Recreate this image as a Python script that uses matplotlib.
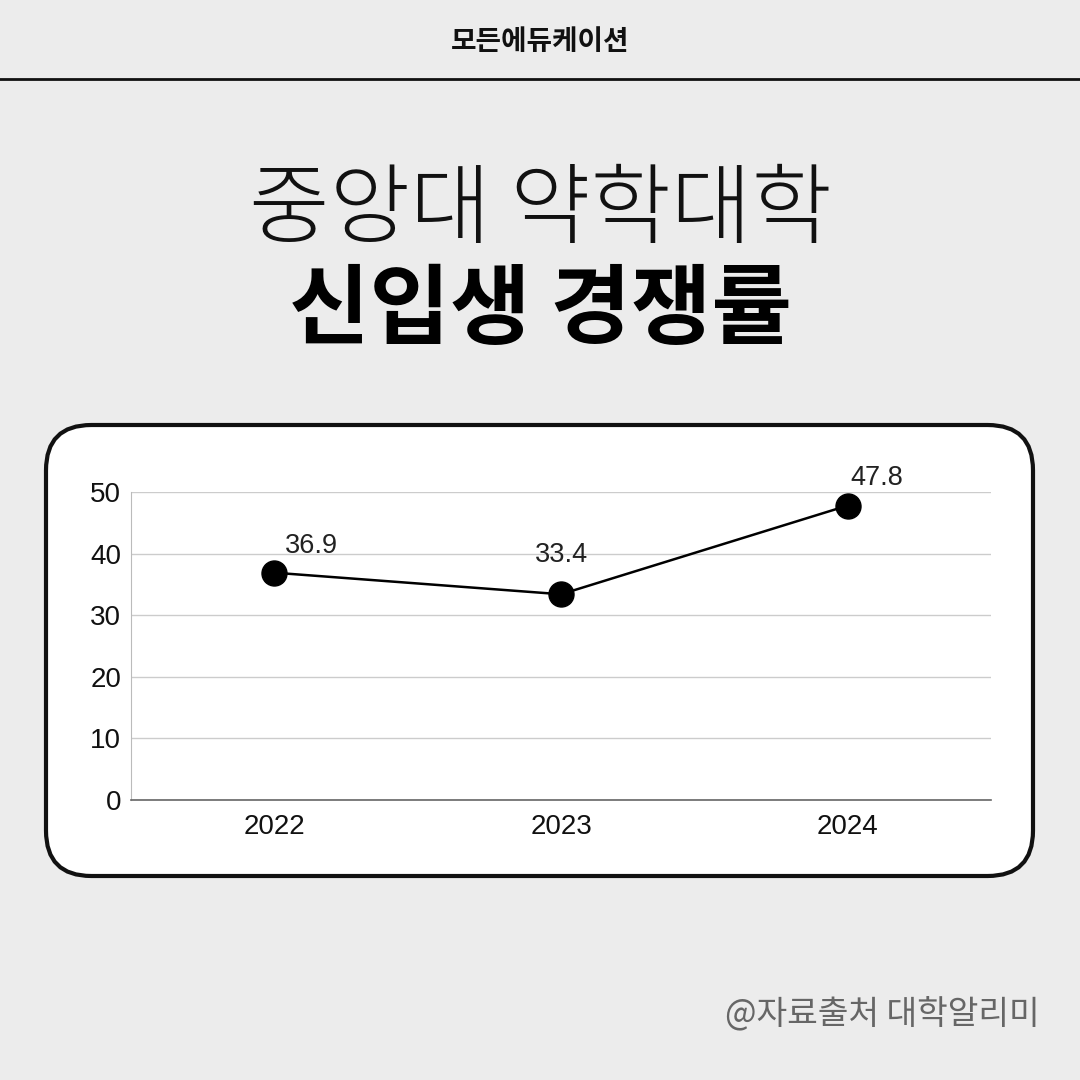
import matplotlib
matplotlib.use("Agg")
import matplotlib.pyplot as plt
from matplotlib import font_manager
from matplotlib.patches import FancyBboxPatch
from matplotlib.lines import Line2D

# Data
years = ["2022", "2023", "2024"]
ratios = [36.9, 33.4, 47.8]
y_ticks = [0, 10, 20, 30, 40, 50]

header = "모든에듀케이션"
title_top = "중앙대 약학대학"
title_bottom = "신입생 경쟁률"
source = "@자료출처 대학알리미"

KR = ["Noto Sans CJK KR", "DejaVu Sans"]
NUM = ["Liberation Sans", "DejaVu Sans"]


def thin_korean_font():
    """Return a FontProperties for a light CJK face if one is installed."""
    for f in font_manager.fontManager.ttflist:
        if "CJK" in f.name and f.weight in (100, 200, 250, 300, "light", "thin", "extra-light"):
            return font_manager.FontProperties(fname=f.fname, size=63)
    for f in font_manager.findSystemFonts():
        low = f.lower()
        if "notosanscjk" in low and ("light" in low or "demilight" in low or "thin" in low):
            return font_manager.FontProperties(fname=f, size=63)
    return font_manager.FontProperties(family=KR, weight="light", size=63)


fig = plt.figure(figsize=(10.8, 10.8), dpi=100)
fig.patch.set_facecolor("#ececec")

# Header and divider
fig.text(0.5, 1 - 42 / 1080, header, family=KR, weight="bold", fontsize=20,
         ha="center", va="center", color="#111111")
fig.add_artist(Line2D([0, 1], [1 - 79 / 1080] * 2, transform=fig.transFigure,
                     color="#111111", lw=2))

# Titles
fig.text(0.5, 1 - 211 / 1080, title_top, fontproperties=thin_korean_font(),
         ha="center", va="center", color="#111111")
fig.text(0.5, 1 - 312 / 1080, title_bottom, family=KR, weight="heavy", fontsize=63,
         ha="center", va="center", color="#000000")

# White rounded card behind the chart
card = FancyBboxPatch((46 / 1080, 1 - 876 / 1080), (1033 - 46) / 1080, (876 - 425) / 1080,
                      boxstyle="round,pad=0,rounding_size=0.042",
                      transform=fig.transFigure, facecolor="white",
                      edgecolor="#111111", linewidth=3, zorder=0)
fig.add_artist(card)

ax = fig.add_axes([131 / 1080, 1 - 800 / 1080, 860 / 1080, 308 / 1080])
ax.set_facecolor("none")
x = [i + 0.5 for i in range(len(years))]
ax.plot(x, ratios, color="black", lw=1.8, marker="o", markersize=18, zorder=3,
        clip_on=False)

ax.set_xlim(0, len(years))
ax.set_ylim(0, 50)
ax.set_yticks(y_ticks)
ax.set_xticks(x)
ax.set_xticklabels(years)
for lab in ax.get_xticklabels() + ax.get_yticklabels():
    lab.set_family(NUM)
    lab.set_fontsize(20)
    lab.set_color("#111111")
ax.tick_params(axis="both", length=0)
ax.tick_params(axis="y", pad=7)
ax.tick_params(axis="x", pad=10)
ax.grid(axis="y", color="#cccccc", lw=1)
ax.set_axisbelow(True)
for s in ["top", "right"]:
    ax.spines[s].set_visible(False)
ax.spines["left"].set_color("#bbbbbb")
ax.spines["bottom"].set_color("#666666")
ax.spines["bottom"].set_linewidth(1.2)

# Value labels
offsets = [(27, 19), (0, 28), (21, 20)]
for xi, v, off in zip(x, ratios, offsets):
    ax.annotate(f"{v}", (xi, v), xytext=off, textcoords="offset points",
                ha="center", va="center", family=NUM, fontsize=19.5, color="#222222")

fig.text(1040 / 1080, 1 - 1014 / 1080, source, family=KR, fontsize=24,
         ha="right", va="center", color="#666666")

fig.savefig("out.png", dpi=100, facecolor=fig.get_facecolor())
